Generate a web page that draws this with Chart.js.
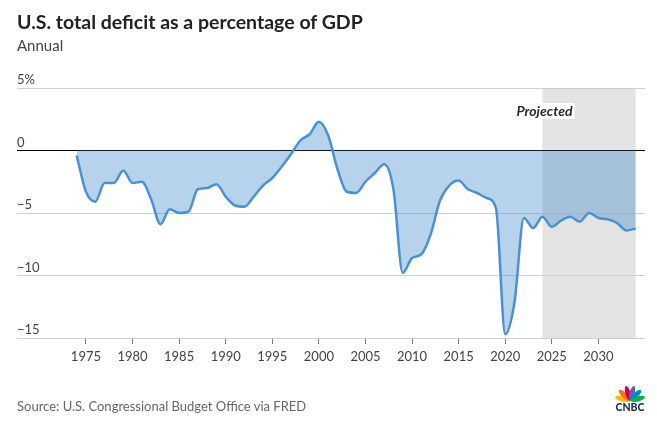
<!DOCTYPE html>
<html>
<head>
<meta charset="utf-8">
<title>U.S. total deficit as a percentage of GDP</title>
<script src="https://cdn.jsdelivr.net/npm/chart.js@4"></script>
<style>
  body { margin: 0; background: #fff; font-family: Lato, sans-serif; }
  #wrap { position: relative; width: 657px; height: 435px; overflow: hidden; }
  #chart { position: absolute; left: 0; top: 0; }
  .title { position: absolute; left: 17px; top: 12px; font-size: 19.5px; line-height: 1; font-weight: 700; color: #222; }
  .sub { position: absolute; left: 17px; top: 38px; font-size: 15px; line-height: 1; color: #444; }
  .source { position: absolute; left: 17px; top: 400px; font-size: 13px; line-height: 1; color: #666; }
</style>
</head>
<body>
<div id="wrap">
  <canvas id="chart" width="657" height="435"></canvas>
  <div class="title">U.S. total deficit as a percentage of GDP</div>
  <div class="sub">Annual</div>
  <div class="source">Source: U.S. Congressional Budget Office via FRED</div>
</div>
<script>
// --- data (fiscal years, % of GDP) ---
const years = [
  1974, 1975, 1976, 1977, 1978, 1979, 1980, 1981, 1982, 1983,
  1984, 1985, 1986, 1987, 1988, 1989, 1990, 1991, 1992, 1993,
  1994, 1995, 1996, 1997, 1998, 1999, 2000, 2001, 2002, 2003,
  2004, 2005, 2006, 2007, 2008, 2009, 2010, 2011, 2012, 2013,
  2014, 2015, 2016, 2017, 2018, 2019, 2020, 2021, 2022, 2023,
  2024, 2025, 2026, 2027, 2028, 2029, 2030, 2031, 2032, 2033, 2034,
];
const deficit = [
  -0.4, -3.3, -4.1, -2.6, -2.6, -1.6, -2.6, -2.5, -3.9, -5.9,
  -4.7, -5.0, -4.9, -3.1, -3.0, -2.7, -3.7, -4.4, -4.5, -3.7,
  -2.8, -2.2, -1.3, -0.3, 0.8, 1.3, 2.3, 1.2, -1.5, -3.3,
  -3.4, -2.5, -1.8, -1.1, -3.1, -9.8, -8.6, -8.3, -6.7, -4.0,
  -2.8, -2.4, -3.1, -3.4, -3.8, -4.6, -14.7, -12.1, -5.4, -6.2,
  -5.3, -6.1, -5.6, -5.3, -5.7, -5.0, -5.4, -5.5, -5.8, -6.4, -6.25,
];
const yearTicks = [1975, 1980, 1985, 1990, 1995, 2000, 2005, 2010, 2015, 2020, 2025, 2030];
const pctTicks = [5, 0, -5, -10, -15];
const projectedStart = 2024;
const projectedEnd = 2034;

const FONT = 'Lato, sans-serif';

const projectedPlugin = {
  id: 'projected',
  beforeDraw(chart) {
    const { ctx, chartArea, scales } = chart;
    const x0 = scales.x.getPixelForValue(projectedStart);
    const x1 = scales.x.getPixelForValue(projectedEnd);
    ctx.save();
    ctx.fillStyle = '#e3e3e3';
    ctx.fillRect(x0, chartArea.top, x1 - x0, chartArea.bottom - chartArea.top);
    ctx.restore();
  },
  afterDraw(chart) {
    const { ctx, scales } = chart;
    const cx = scales.x.getPixelForValue(projectedStart) + 2;
    const cy = 111;
    ctx.save();
    ctx.font = 'italic 700 14px ' + FONT;
    const w = ctx.measureText('Projected').width;
    ctx.fillStyle = '#fff';
    ctx.fillRect(cx - w / 2 - 2, cy - 8, w + 4, 16);
    ctx.fillStyle = '#2a2a2a';
    ctx.textAlign = 'center';
    ctx.textBaseline = 'middle';
    ctx.fillText('Projected', cx, cy);
    ctx.restore();
    drawLogo(ctx, 630, 401);
  },
};

// small peacock + wordmark, bottom right
function drawLogo(ctx, bx, by) {
  const colors = ['#fcb711', '#f37021', '#cc004c', '#6460aa', '#0089d0', '#0db14b'];
  ctx.save();
  colors.forEach((c, i) => {
    const a = (-75 + i * 30) * Math.PI / 180;
    ctx.save();
    ctx.translate(bx + Math.sin(a) * 8, by - Math.cos(a) * 8);
    ctx.rotate(a);
    ctx.beginPath();
    ctx.ellipse(0, 0, 2.6, 7.5, 0, 0, Math.PI * 2);
    ctx.fillStyle = c;
    ctx.fill();
    ctx.restore();
  });
  ctx.font = '900 10.5px ' + FONT;
  ctx.fillStyle = '#1c2a55';
  ctx.textAlign = 'center';
  ctx.textBaseline = 'middle';
  ctx.fillText('CNBC', bx, by + 7);
  ctx.restore();
}

new Chart(document.getElementById('chart'), {
  type: 'line',
  data: {
    datasets: [
      {
        data: years.map((y, i) => ({ x: y, y: deficit[i] })),
        borderColor: '#4a91d1',
        borderWidth: 2.5,
        backgroundColor: 'rgba(74,144,208,0.4)',
        fill: 'origin',
        pointRadius: 0,
        cubicInterpolationMode: 'monotone',
      },
    ],
  },
  options: {
    responsive: false,
    animation: false,
    layout: { padding: { left: 17, right: 12, top: 88, bottom: 67 } },
    plugins: { legend: { display: false }, tooltip: { enabled: false } },
    scales: {
      x: {
        type: 'linear',
        min: 1967.6,
        max: 2035,
        afterBuildTicks: (scale) => { scale.ticks = yearTicks.map((v) => ({ value: v })); },
        afterFit: (scale) => { scale.height = 30; },
        border: { display: false },
        grid: { drawOnChartArea: false, drawTicks: true, tickLength: 6, color: '#777' },
        ticks: {
          autoSkip: false,
          maxRotation: 0,
          padding: 5,
          color: '#444',
          font: { family: FONT, size: 13 },
          callback: (v) => String(v),
        },
      },
      y: {
        min: -15,
        max: 5,
        afterBuildTicks: (scale) => { scale.ticks = pctTicks.map((v) => ({ value: v })); },
        afterFit: (scale) => { scale.width = 0; },
        border: { display: false },
        grid: {
          drawTicks: false,
          color: (c) => (c.tick && c.tick.value === 0 ? '#000' : '#cfcfcf'),
        },
        ticks: {
          mirror: true,
          padding: 0,
          labelOffset: -8,
          color: '#444',
          font: { family: FONT, size: 13 },
          callback: (v) => (v === 5 ? '5%' : v < 0 ? '\u2212' + Math.abs(v) : String(v)),
        },
      },
    },
  },
  plugins: [projectedPlugin],
});
</script>
</body>
</html>
